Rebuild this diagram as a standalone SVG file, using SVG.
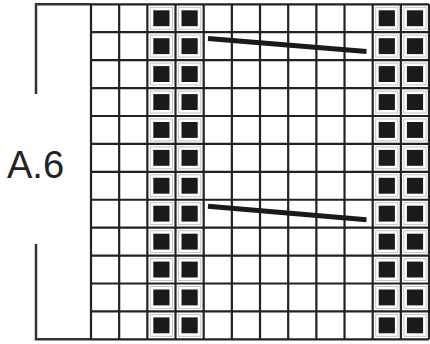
<svg xmlns="http://www.w3.org/2000/svg" xmlns:xlink="http://www.w3.org/1999/xlink" width="430" height="344" viewBox="0 0 430 344">
<style>
.grid{stroke:#222;stroke-width:2.2;fill:none}
.br{stroke:#333;stroke-width:2.5;fill:none}
.diag{stroke:#1a1a1a;stroke-width:5;stroke-linecap:butt}
.lbl{font-family:"Liberation Sans",Arial,sans-serif;font-size:38px;fill:#222}
</style>
<defs>
<g id="sq">
<rect x="3" y="3" width="22.2" height="21.9" fill="none" stroke="#c4c4c4" stroke-width="1"/>
<rect x="6" y="6" width="16.2" height="15.9" fill="#1a1a1a"/>
</g>
</defs>
<rect width="430" height="344" fill="#fff"/>
<g id="bracket">
<path class="br" d="M91 4.3H36V94"/>
<path class="br" d="M36 244V339.3H91"/>
</g>
<g id="label"><text class="lbl" x="7" y="178">A.6</text></g>
<g id="grid">
<path class="grid" d="M91 4.3V339.3M119.17 4.3V339.3M147.34 4.3V339.3M175.51 4.3V339.3M203.68 4.3V339.3M231.85 4.3V339.3M260.02 4.3V339.3M288.19 4.3V339.3M316.36 4.3V339.3M344.53 4.3V339.3M372.7 4.3V339.3M400.87 4.3V339.3M429 4.3V339.3"/>
<path class="grid" d="M91 4.3H429M91 32.22H429M91 60.14H429M91 88.06H429M91 115.98H429M91 143.9H429M91 171.82H429M91 199.74H429M91 227.66H429M91 255.58H429M91 283.5H429M91 311.42H429M91 339.34H429"/>
</g>
<g id="cells">
<use xlink:href="#sq" x="147.3" y="4.3"/><use xlink:href="#sq" x="175.5" y="4.3"/><use xlink:href="#sq" x="372.7" y="4.3"/><use xlink:href="#sq" x="400.9" y="4.3"/>
<use xlink:href="#sq" x="147.3" y="32.2"/><use xlink:href="#sq" x="175.5" y="32.2"/><use xlink:href="#sq" x="372.7" y="32.2"/><use xlink:href="#sq" x="400.9" y="32.2"/>
<use xlink:href="#sq" x="147.3" y="60.1"/><use xlink:href="#sq" x="175.5" y="60.1"/><use xlink:href="#sq" x="372.7" y="60.1"/><use xlink:href="#sq" x="400.9" y="60.1"/>
<use xlink:href="#sq" x="147.3" y="88.1"/><use xlink:href="#sq" x="175.5" y="88.1"/><use xlink:href="#sq" x="372.7" y="88.1"/><use xlink:href="#sq" x="400.9" y="88.1"/>
<use xlink:href="#sq" x="147.3" y="116"/><use xlink:href="#sq" x="175.5" y="116"/><use xlink:href="#sq" x="372.7" y="116"/><use xlink:href="#sq" x="400.9" y="116"/>
<use xlink:href="#sq" x="147.3" y="143.9"/><use xlink:href="#sq" x="175.5" y="143.9"/><use xlink:href="#sq" x="372.7" y="143.9"/><use xlink:href="#sq" x="400.9" y="143.9"/>
<use xlink:href="#sq" x="147.3" y="171.8"/><use xlink:href="#sq" x="175.5" y="171.8"/><use xlink:href="#sq" x="372.7" y="171.8"/><use xlink:href="#sq" x="400.9" y="171.8"/>
<use xlink:href="#sq" x="147.3" y="199.7"/><use xlink:href="#sq" x="175.5" y="199.7"/><use xlink:href="#sq" x="372.7" y="199.7"/><use xlink:href="#sq" x="400.9" y="199.7"/>
<use xlink:href="#sq" x="147.3" y="227.7"/><use xlink:href="#sq" x="175.5" y="227.7"/><use xlink:href="#sq" x="372.7" y="227.7"/><use xlink:href="#sq" x="400.9" y="227.7"/>
<use xlink:href="#sq" x="147.3" y="255.6"/><use xlink:href="#sq" x="175.5" y="255.6"/><use xlink:href="#sq" x="372.7" y="255.6"/><use xlink:href="#sq" x="400.9" y="255.6"/>
<use xlink:href="#sq" x="147.3" y="283.5"/><use xlink:href="#sq" x="175.5" y="283.5"/><use xlink:href="#sq" x="372.7" y="283.5"/><use xlink:href="#sq" x="400.9" y="283.5"/>
<use xlink:href="#sq" x="147.3" y="311.4"/><use xlink:href="#sq" x="175.5" y="311.4"/><use xlink:href="#sq" x="372.7" y="311.4"/><use xlink:href="#sq" x="400.9" y="311.4"/>
</g>
<g id="connectors">
<line class="diag" x1="208" y1="38.5" x2="366.5" y2="51.5"/>
<line class="diag" x1="208" y1="206.3" x2="366.5" y2="219.8"/>
</g>
</svg>
